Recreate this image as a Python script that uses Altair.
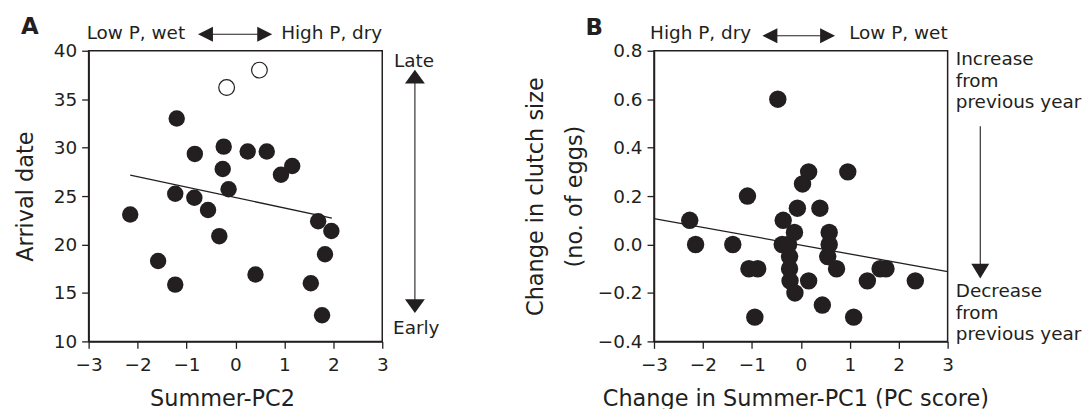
import altair as alt
import pandas as pd

# ---------------- data: panel A ----------------
a_x = [-1.20, -0.83, -0.24, 0.25, 0.64, -0.26, 1.16, 0.93, -0.14, -1.23, -0.84,
       -0.56, -2.15, -0.33, 1.69, 1.96, 1.83, -1.58, 0.41, -1.23, 1.54, 1.77]
a_y = [33.0, 29.35, 30.1, 29.6, 29.6, 27.8, 28.1, 27.2, 25.7, 25.24, 24.83,
       23.56, 23.1, 20.86, 22.4, 21.4, 19.0, 18.3, 16.9, 15.86, 16.0, 12.7]
a_open_x = [-0.18, 0.49]
a_open_y = [36.2, 38.0]
a_fit_x = [-2.15, 1.97]
a_fit_y = [27.15, 22.73]
a_x_ticks = [-3, -2, -1, 0, 1, 2, 3]
a_y_ticks = [10, 15, 20, 25, 30, 35, 40]

# ---------------- data: panel B ----------------
b_x = [-2.27, -2.15, -1.39, -1.09, -1.06, -0.88, -0.94, -0.47, -0.36, -0.38, -0.25,
       -0.23, -0.23, -0.22, -0.13, -0.12, -0.07, 0.035, 0.16, 0.16, 0.39, 0.58,
       0.58, 0.55, 0.73, 0.44, 0.96, 1.08, 1.36, 1.62, 1.74, 2.34]
b_y = [0.10, 0.0, 0.0, 0.20, -0.10, -0.10, -0.30, 0.60, 0.10, 0.0, 0.0,
       -0.05, -0.10, -0.15, 0.05, -0.20, 0.15, 0.25, 0.30, -0.15, 0.15, 0.05,
       0.0, -0.05, -0.10, -0.25, 0.30, -0.30, -0.15, -0.10, -0.10, -0.15]
b_fit_x = [-3.0, 3.0]
b_fit_y = [0.107, -0.112]
b_x_ticks = [-3, -2, -1, 0, 1, 2, 3]
b_y_ticks = [-0.4, -0.2, 0.0, 0.2, 0.4, 0.6, 0.8]

DARK = "#231f20"
FONT = "DejaVu Sans"
FS = 18.5

TRI_L = "M-1,0L1,-1L1,1Z"
TRI_R = "M1,0L-1,-1L-1,1Z"
TRI_U = "M0,-0.7L1,0.7L-1,0.7Z"
TRI_D = "M0,0.7L1,-0.7L-1,-0.7Z"
TRI_D2 = "M0,0.83L1,-0.83L-1,-0.83Z"


def panel(xs, ys, xdom, ydom, xticks, yticks, xtitle, ytitle, xtitle_x,
          ytitle_x, yfmt, fit_x, fit_y, size, annot, extra_layers):
    xenc = alt.X("x:Q", scale=alt.Scale(domain=xdom, nice=False, zero=False),
                 axis=alt.Axis(values=xticks, title=xtitle, titleX=xtitle_x, titleY=64,
                               titleBaseline="alphabetic", titleAlign="center",
                               format="d"))
    yenc = alt.Y("y:Q", scale=alt.Scale(domain=ydom, nice=False, zero=False),
                 axis=alt.Axis(values=yticks, title=ytitle, titleX=ytitle_x, titleY=146,
                               titleAngle=270, titleBaseline="alphabetic",
                               titleAlign="center", titleLineHeight=39, format=yfmt))
    pts = alt.Chart(pd.DataFrame({"x": xs, "y": ys})).mark_circle(
        size=size, color=DARK, opacity=1).encode(x=xenc, y=yenc)
    fit = alt.Chart(pd.DataFrame({"x": fit_x, "y": fit_y})).mark_line(
        color=DARK, strokeWidth=1.3).encode(x=xenc, y=yenc)
    layers = [fit, pts]
    for df, align in annot:
        layers.append(alt.Chart(df).mark_text(
            align=align, baseline="alphabetic", font=FONT, fontSize=FS, color=DARK
        ).encode(x=xenc, y=yenc, text="t:N"))
    for lyr in extra_layers:
        layers.append(lyr(xenc, yenc))
    return alt.layer(*layers).properties(width=295, height=292)


def rule_h(x1, x2, y):
    def f(xenc, yenc):
        return alt.Chart(pd.DataFrame({"x": [x1], "x2": [x2], "y": [y]})).mark_rule(
            color=DARK, strokeWidth=1.2).encode(x=xenc, x2="x2:Q", y=yenc)
    return f


def rule_v(x, y1, y2):
    def f(xenc, yenc):
        return alt.Chart(pd.DataFrame({"x": [x], "y": [y1], "y2": [y2]})).mark_rule(
            color=DARK, strokeWidth=1.1).encode(x=xenc, y=yenc, y2="y2:Q")
    return f


def head(x, y, shape, size):
    def f(xenc, yenc):
        return alt.Chart(pd.DataFrame({"x": [x], "y": [y]})).mark_point(
            shape=shape, size=size, filled=True, color=DARK, opacity=1, strokeWidth=0
        ).encode(x=xenc, y=yenc)
    return f


def letter(x, y, t):
    def f(xenc, yenc):
        return alt.Chart(pd.DataFrame({"x": [x], "y": [y], "t": [t]})).mark_text(
            align="left", baseline="alphabetic", font=FONT, fontSize=23,
            fontWeight="bold", color=DARK).encode(x=xenc, y=yenc, text="t:N")
    return f


def open_pts(xs, ys):
    def f(xenc, yenc):
        return alt.Chart(pd.DataFrame({"x": xs, "y": ys})).mark_point(
            shape="circle", size=250, filled=False, color=DARK, strokeWidth=1.2,
            opacity=1).encode(x=xenc, y=yenc)
    return f


annot_a = [
    (pd.DataFrame({"x": [-3.04, 3.24, 3.22], "y": [41.23, 38.36, 10.81],
                   "t": ["Low P, wet", "Late", "Early"]}), "left"),
    (pd.DataFrame({"x": [3.0], "y": [41.23], "t": ["High P, dry"]}), "right"),
]
extra_a = [
    open_pts(a_open_x, a_open_y),
    rule_h(-0.612, 0.598, 41.70),
    head(-0.612, 41.70, TRI_L, 225),
    head(0.598, 41.70, TRI_R, 225),
    rule_v(3.667, 37.33, 13.64),
    head(3.667, 37.33, TRI_U, 400),
    head(3.667, 13.64, TRI_D, 400),
    letter(-4.38, 41.75, "A"),
]

annot_b = [
    (pd.DataFrame({"x": [-3.08, 3.165, 3.165, 3.165, 3.165, 3.165, 3.165],
                   "y": [0.849, 0.740, 0.652, 0.564, -0.218, -0.306, -0.394],
                   "t": ["High P, dry", "Increase", "from", "previous year",
                         "Decrease", "from", "previous year"]}), "left"),
    (pd.DataFrame({"x": [3.0], "y": [0.849], "t": ["Low P, wet"]}), "right"),
]
extra_b = [
    rule_h(-0.632, 0.547, 0.862),
    head(-0.632, 0.862, TRI_L, 225),
    head(0.547, 0.862, TRI_R, 225),
    rule_v(3.667, 0.488, -0.11),
    head(3.667, -0.11, TRI_D2, 324),
    letter(-4.40, 0.865, "B"),
]

chart_a = panel(a_x, a_y, [-3, 3], [10, 40], a_x_ticks, a_y_ticks, "Summer-PC2",
                "Arrival date", 134, -56, "d", a_fit_x, a_fit_y, 272, annot_a, extra_a)
chart_b = panel(b_x, b_y, [-3, 3], [-0.4, 0.8], b_x_ticks, b_y_ticks,
                "Change in Summer-PC1 (PC score)",
                ["Change in clutch size", "(no. of eggs)"], 142, -112, ".1f",
                b_fit_x, b_fit_y, 306, annot_b, extra_b)

chart = alt.hconcat(chart_a, chart_b, spacing=273, bounds="flush").properties(
    padding={"left": 6, "top": 6, "right": 0, "bottom": 0}
).configure_view(
    stroke=DARK, strokeWidth=1.5
).configure_axis(
    grid=False, domainColor=DARK, domainWidth=1.5, tickColor=DARK, tickWidth=1.3,
    tickSize=7, labelFont=FONT, labelFontSize=FS, labelColor=DARK,
    titleFont=FONT, titleFontSize=22.5, titleFontWeight="normal", titleColor=DARK,
    labelFlush=False, labelOverlap=False, labelBound=False
).configure_axisX(labelPadding=7.5).configure_axisY(labelPadding=5)

chart.save("out.html", embed_options={"renderer": "svg", "actions": False})
